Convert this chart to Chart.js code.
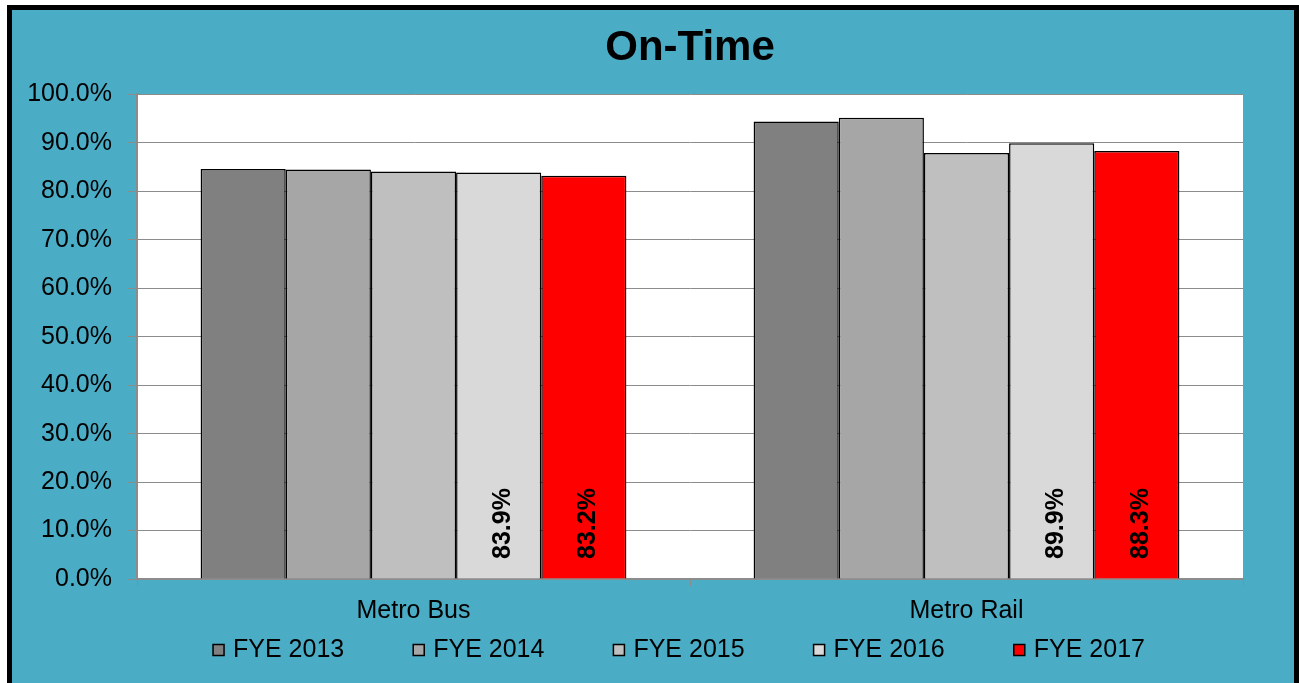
<!DOCTYPE html>
<html>
<head>
<meta charset="utf-8">
<script src="https://cdn.jsdelivr.net/npm/chart.js@4/dist/chart.umd.min.js"></script>
<style>
  html, body { margin: 0; padding: 0; background: #fff; overflow: hidden; }
  #frame {
    position: absolute; left: 7px; top: 5px;
    width: 1282px; height: 700px;
    border: 5px solid #000;
    background: #4BACC6;
  }
  #box { position: relative; width: 1282px; height: 673px; }
</style>
</head>
<body>
<div id="frame"><div id="box"><canvas id="onTimeChart"></canvas></div></div>
<script>
// --- data ---
const categories = ['Metro Bus', 'Metro Rail'];
const seriesNames = ['FYE 2013', 'FYE 2014', 'FYE 2015', 'FYE 2016', 'FYE 2017'];
const fye2013 = [84.6, 94.4];
const fye2014 = [84.5, 95.2];
const fye2015 = [84.1, 87.9];
const fye2016 = [83.9, 89.9];
const fye2017 = [83.2, 88.3];
const yTicks = [0, 10, 20, 30, 40, 50, 60, 70, 80, 90, 100];
const labeledSeries = [3, 4]; // only the last two years carry value labels

const seriesValues = [fye2013, fye2014, fye2015, fye2016, fye2017];
const seriesColors = ['#808080', '#A6A6A6', '#BFBFBF', '#D9D9D9', '#FF0000'];
const FONT = '"Liberation Sans", Arial, sans-serif';
const GRID = '#8c8c8c';

// white plot area on the teal background
const plotBackground = {
  id: 'plotBackground',
  beforeDraw(chart) {
    const { ctx, chartArea: a } = chart;
    ctx.save();
    ctx.fillStyle = '#fff';
    ctx.fillRect(a.left, a.top, a.right - a.left, a.bottom - a.top);
    ctx.restore();
  }
};

// rotated value labels inside the bars
const barLabels = {
  id: 'barLabels',
  afterDatasetsDraw(chart) {
    const ctx = chart.ctx;
    const base = chart.scales.y.getPixelForValue(0);
    ctx.save();
    ctx.font = 'bold 25px ' + FONT;
    ctx.fillStyle = '#000';
    ctx.textAlign = 'left';
    ctx.textBaseline = 'middle';
    labeledSeries.forEach(i => {
      chart.getDatasetMeta(i).data.forEach((bar, j) => {
        const v = chart.data.datasets[i].data[j];
        ctx.save();
        ctx.translate(bar.x + 4, base - 20);
        ctx.rotate(-Math.PI / 2);
        ctx.fillText(v.toFixed(1) + '%', 0, 0);
        ctx.restore();
      });
    });
    ctx.restore();
  }
};

// legend drawn by hand: the built-in one uses the same padding for rows and items
const wideLegend = {
  id: 'wideLegend',
  afterDraw(chart) {
    const ctx = chart.ctx;
    const a = chart.chartArea;
    const box = 11, gap = 9, spacing = 69;
    ctx.save();
    ctx.font = '25px ' + FONT;
    ctx.textBaseline = 'middle';
    ctx.textAlign = 'left';
    const widths = chart.data.datasets.map(d => box + gap + ctx.measureText(d.label).width);
    const total = widths.reduce((s, w) => s + w, 0) + spacing * (widths.length - 1);
    let x = (a.left + a.right) / 2 - 11 - total / 2;
    const y = chart.height - 33;
    chart.data.datasets.forEach((d, i) => {
      ctx.fillStyle = d.backgroundColor;
      ctx.fillRect(x, y - box / 2, box, box);
      ctx.strokeStyle = '#000';
      ctx.lineWidth = 1.5;
      ctx.strokeRect(x, y - box / 2, box, box);
      ctx.fillStyle = '#000';
      ctx.fillText(d.label, x + box + gap, y);
      x += widths[i] + spacing;
    });
    ctx.restore();
  }
};

new Chart(document.getElementById('onTimeChart'), {
  type: 'bar',
  data: {
    labels: categories,
    datasets: seriesNames.map((name, i) => ({
      label: name,
      data: seriesValues[i],
      backgroundColor: seriesColors[i],
      borderColor: '#000',
      borderWidth: 1.5,
      categoryPercentage: 0.77,
      barPercentage: 1.0
    }))
  },
  options: {
    responsive: true,
    maintainAspectRatio: false,
    animation: false,
    layout: { padding: { left: 0, right: 51, top: 0, bottom: 47 } },
    scales: {
      x: {
        grid: { display: true, drawOnChartArea: false, color: GRID, tickLength: 7 },
        border: { color: GRID, width: 2 },
        ticks: { color: '#000', font: { family: FONT, size: 25 }, padding: 10 }
      },
      y: {
        min: 0,
        max: 100,
        afterBuildTicks: axis => { axis.ticks = yTicks.map(v => ({ value: v })); },
        afterFit: axis => { axis.width = 125; },
        grid: { color: GRID, tickLength: 9 },
        border: { color: GRID, width: 2 },
        ticks: {
          color: '#000',
          font: { family: FONT, size: 25 },
          padding: 16,
          callback: v => v.toFixed(1) + '%'
        }
      }
    },
    plugins: {
      title: {
        display: true,
        text: 'On-Time',
        fullSize: false,
        color: '#000',
        font: { family: FONT, size: 42, weight: 'bold' },
        padding: { top: 13, bottom: 21 }
      },
      legend: { display: false },
      tooltip: { enabled: false }
    }
  },
  plugins: [plotBackground, barLabels, wideLegend]
});
</script>
</body>
</html>
